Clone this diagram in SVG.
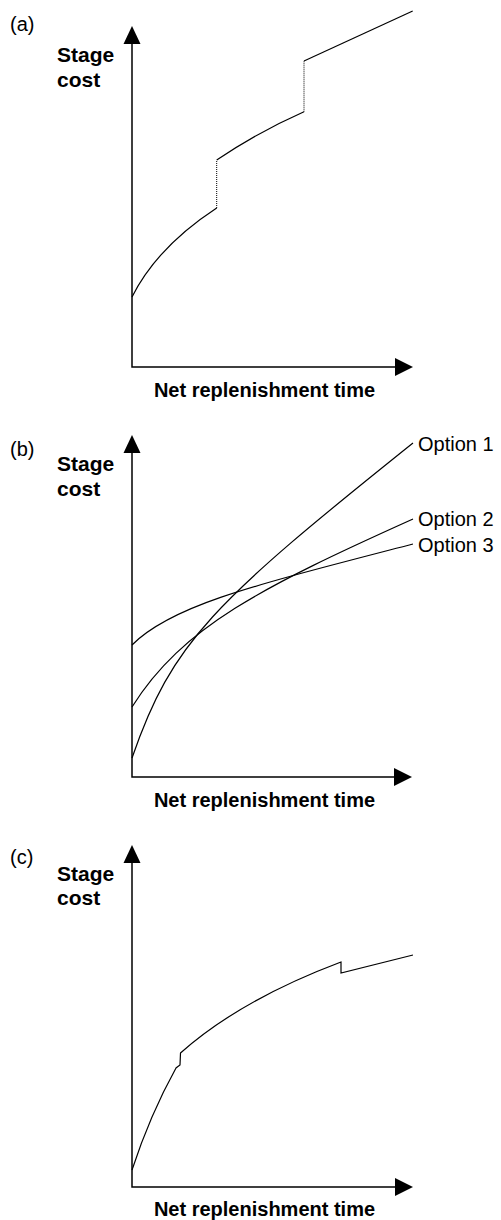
<svg xmlns="http://www.w3.org/2000/svg" width="501" height="1220" viewBox="0 0 501 1220">
  <style>
    .axis { stroke: #000; stroke-width: 1.5; fill: none; }
    .head { fill: #000; stroke: none; }
    .curve { stroke: #000; stroke-width: 1.2; fill: none; }
    .jump { stroke: #000; stroke-width: 1; fill: none; stroke-dasharray: 1 1; }
    .tag { font-family: "Liberation Sans", Arial, sans-serif; font-size: 20px; fill: #000; }
    .ylab { font-family: "Liberation Sans", Arial, sans-serif; font-size: 21px; font-weight: bold; fill: #000; }
    .xlab { font-family: "Liberation Sans", Arial, sans-serif; font-size: 20px; font-weight: bold; fill: #000; text-anchor: middle; }
    .opt { font-family: "Liberation Sans", Arial, sans-serif; font-size: 20px; fill: #000; }
  </style>

  <!-- Panel (a): stepped cost curve -->
  <g id="panel-a">
    <text class="tag" x="10" y="31">(a)</text>
    <text class="ylab" x="57" y="62">Stage</text>
    <text class="ylab" x="57" y="87">cost</text>
    <text class="xlab" x="264.5" y="397">Net replenishment time</text>
    <g id="axes-a">
      <polyline class="axis" points="132,43 132,367 396,367"/>
      <polygon class="head" points="132,26 123.5,44 140.5,44"/>
      <polygon class="head" points="413,367 395,358 395,376"/>
    </g>
    <g id="curve-a">
      <path class="curve" d="M132,297 Q157,247 216.7,208"/>
      <path class="jump" d="M216.7,208 V160"/>
      <path class="curve" d="M216.7,160 Q258,132 304,111.7"/>
      <path class="jump" d="M304,111.7 V61"/>
      <path class="curve" d="M304,61 L412.7,11"/>
    </g>
  </g>

  <!-- Panel (b): three option curves -->
  <g id="panel-b">
    <text class="tag" x="10" y="456">(b)</text>
    <text class="ylab" x="57" y="471">Stage</text>
    <text class="ylab" x="57" y="496">cost</text>
    <text class="xlab" x="264.5" y="807">Net replenishment time</text>
    <g id="axes-b">
      <polyline class="axis" points="132,452 132,777 395,777"/>
      <polygon class="head" points="132,435 123.5,453 140.5,453"/>
      <polygon class="head" points="412,777 394,768 394,786"/>
    </g>
    <g id="option-1">
      <path class="curve" d="M132,758 C172,642 213,603 413,443"/>
      <text class="opt" x="418" y="451">Option 1</text>
    </g>
    <g id="option-2">
      <path class="curve" d="M132,707 C182,627 263,586.5 413,519"/>
      <text class="opt" x="418" y="526">Option 2</text>
    </g>
    <g id="option-3">
      <path class="curve" d="M132,645 C172,605 253,585.6 413,544"/>
      <text class="opt" x="418" y="552">Option 3</text>
    </g>
  </g>

  <!-- Panel (c): combined cost curve with small jumps -->
  <g id="panel-c">
    <text class="tag" x="10" y="864">(c)</text>
    <text class="ylab" x="57" y="881">Stage</text>
    <text class="ylab" x="57" y="905">cost</text>
    <text class="xlab" x="264.5" y="1216">Net replenishment time</text>
    <g id="axes-c">
      <polyline class="axis" points="132,862 132,1187 396,1187"/>
      <polygon class="head" points="132,845 123.5,863 140.5,863"/>
      <polygon class="head" points="413,1187 395,1178 395,1196"/>
    </g>
    <g id="curve-c">
      <path class="curve" d="M132,1170 Q150,1115 176,1068 L180,1065 L180.5,1053 Q240,1000 341,962 L341,973 L413,955"/>
    </g>
  </g>
</svg>
